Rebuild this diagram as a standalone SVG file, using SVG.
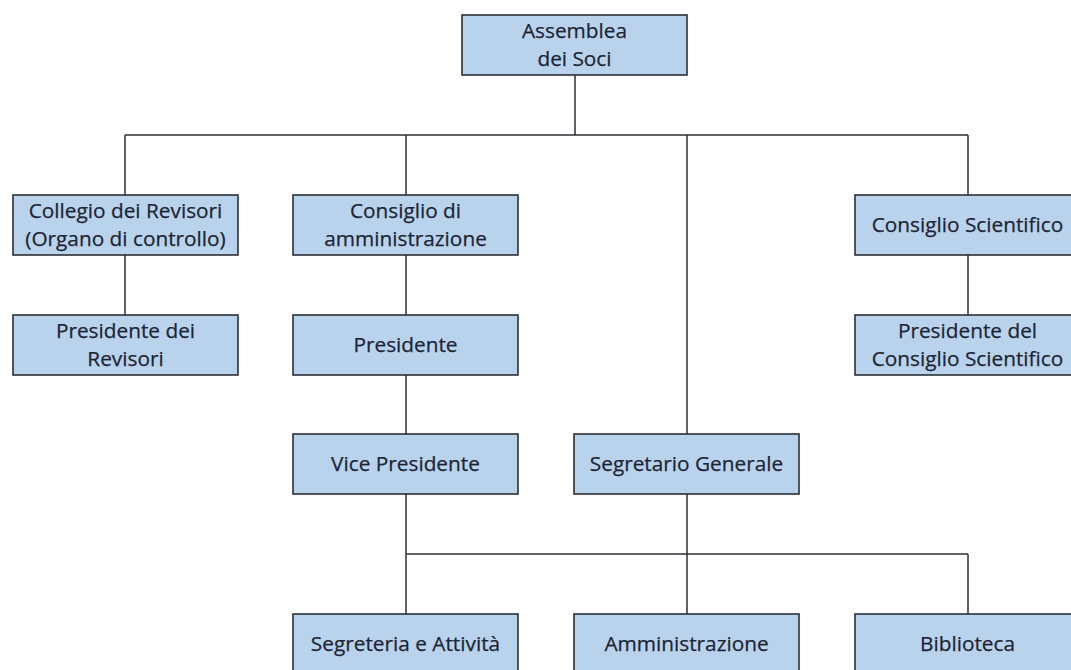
<svg xmlns="http://www.w3.org/2000/svg" width="1071" height="670" viewBox="0 0 1071 670">
<style>
.box{fill:#bad3ec;stroke:#2b2f36;stroke-width:1.6}
.t{font-family:"Open Sans","Lato","Liberation Sans",sans-serif;font-size:20.8px;fill:#1c2535;stroke:#1c2535;stroke-width:0.25;text-anchor:middle}
.c{fill:none;stroke:#2b2f36;stroke-width:1.5}
</style>
<rect width="1071" height="670" fill="#ffffff"/>
<g id="connectors">
<path class="c" d="M575 75V135M125 135H968M125 135V195M406 135V195M687 135V434M968 135V195"/>
<path class="c" d="M125 255V315M406 255V315M406 375V434M968 255V315"/>
<path class="c" d="M406 494V614M687 494V614M406 554H968M968 554V614"/>
</g>
<g id="assemblea">
<rect class="box" x="462" y="15" width="225" height="60"/>
<text class="t" x="574.5" y="38">Assemblea</text>
<text class="t" x="574.5" y="66">dei Soci</text>
</g>
<g id="collegio">
<rect class="box" x="13" y="195" width="225" height="60"/>
<text class="t" x="125.5" y="218">Collegio dei Revisori</text>
<text class="t" x="125.5" y="246">(Organo di controllo)</text>
</g>
<g id="presidente-revisori">
<rect class="box" x="13" y="315" width="225" height="60"/>
<text class="t" x="125.5" y="338">Presidente dei</text>
<text class="t" x="125.5" y="366">Revisori</text>
</g>
<g id="consiglio-amministrazione">
<rect class="box" x="293" y="195" width="225" height="60"/>
<text class="t" x="405.5" y="218">Consiglio di</text>
<text class="t" x="405.5" y="246">amministrazione</text>
</g>
<g id="presidente">
<rect class="box" x="293" y="315" width="225" height="60"/>
<text class="t" x="405.5" y="352">Presidente</text>
</g>
<g id="vice-presidente">
<rect class="box" x="293" y="434" width="225" height="60"/>
<text class="t" x="405.5" y="471">Vice Presidente</text>
</g>
<g id="segretario-generale">
<rect class="box" x="574" y="434" width="225" height="60"/>
<text class="t" x="686.5" y="471">Segretario Generale</text>
</g>
<g id="consiglio-scientifico">
<rect class="box" x="855" y="195" width="225" height="60"/>
<text class="t" x="967.5" y="232">Consiglio Scientifico</text>
</g>
<g id="presidente-consiglio-scientifico">
<rect class="box" x="855" y="315" width="225" height="60"/>
<text class="t" x="967.5" y="338">Presidente del</text>
<text class="t" x="967.5" y="366">Consiglio Scientifico</text>
</g>
<g id="segreteria-attivita">
<rect class="box" x="293" y="614" width="225" height="60"/>
<text class="t" x="405.5" y="651">Segreteria e Attività</text>
</g>
<g id="amministrazione">
<rect class="box" x="574" y="614" width="225" height="60"/>
<text class="t" x="686.5" y="651">Amministrazione</text>
</g>
<g id="biblioteca">
<rect class="box" x="855" y="614" width="225" height="60"/>
<text class="t" x="967.5" y="651">Biblioteca</text>
</g>
</svg>
